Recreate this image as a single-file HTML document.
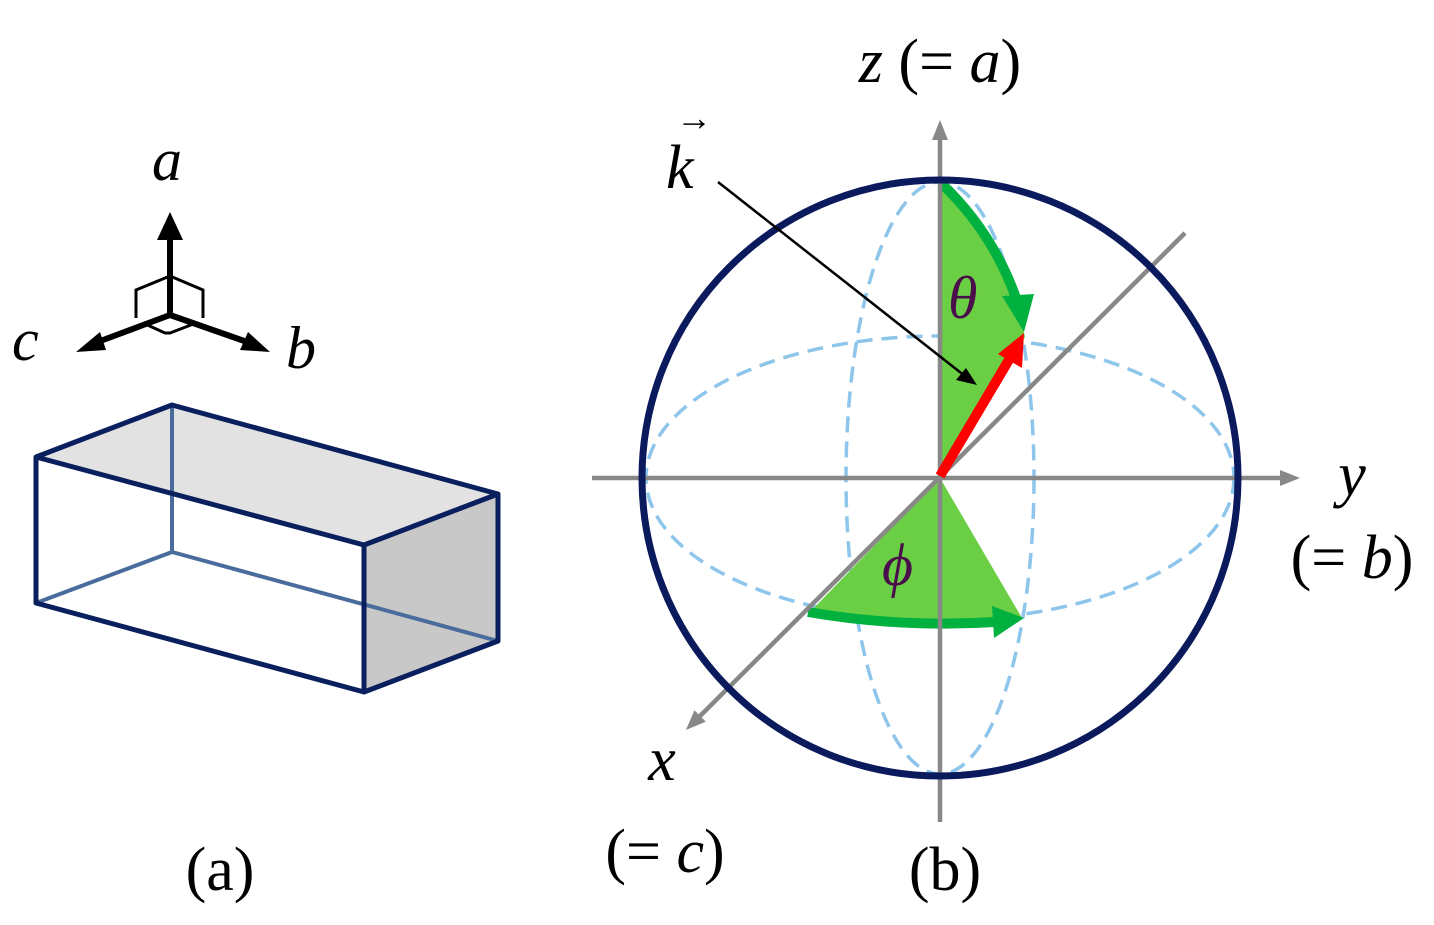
<!DOCTYPE html>
<html><head><style>body{margin:0;background:#fff}svg{display:block}</style></head><body>
<svg width="1434" height="925" viewBox="0 0 1434 925" xmlns="http://www.w3.org/2000/svg" font-family="Liberation Serif, serif">
<defs>
<marker id="ag" markerWidth="20" markerHeight="16" refX="10" refY="8" orient="auto" markerUnits="userSpaceOnUse" viewBox="0 0 20 16"><path d="M0,0L20,8L0,16z" fill="#888"/></marker>
</defs>
<!-- box -->
<polygon points="172,405 36,457 364,545 498,494" fill="#e2e2e2"/>
<polygon points="364,545 498,494 498,641 364,692" fill="#c8c8c8"/>
<g stroke="#4a6c9c" stroke-width="4" fill="none"><line x1="172" y1="405" x2="172" y2="552"/><line x1="172" y1="552" x2="36" y2="603"/><line x1="172" y1="552" x2="498" y2="641"/></g>
<g stroke="#0a1f5e" stroke-width="5" fill="none" stroke-linejoin="round"><polygon points="172,405 36,457 364,545 498,494"/><polyline points="36,457 36,603 364,692 498,641 498,494"/><line x1="364" y1="545" x2="364" y2="692"/></g>
<!-- axes icon -->
<g stroke="#000" fill="none" stroke-width="3"><polyline points="136,318 136,290 170,276 203,290 203,318"/><polyline points="143,323 165,333 170,333 196,323"/></g>
<g stroke="#000" stroke-width="6"><line x1="170" y1="318" x2="170" y2="232"/><line x1="170" y1="315" x2="95" y2="343"/><line x1="170" y1="315" x2="250" y2="343"/></g>
<polygon points="170,212 157,240 183,240" fill="#000"/>
<polygon points="76,352 100,332 106,350" fill="#000"/>
<polygon points="270,352 240,350 248,332" fill="#000"/>
<g font-style="italic" font-size="60" fill="#000"><text x="152" y="180">a</text><text x="12" y="360">c</text><text x="286" y="368">b</text></g>
<text x="220" y="890" font-size="62" text-anchor="middle">(a)</text>
<!-- sphere -->
<g stroke="#8ec5ea" stroke-width="3.5" stroke-dasharray="16,9" fill="none"><ellipse cx="940" cy="478" rx="294" ry="142"/><ellipse cx="940" cy="478" rx="94" ry="296"/></g>
<path d="M940,478 L940,182 A296,296 0 0 1 1025,337 Z" fill="#6bcf45"/>
<path d="M940,478 L810,612 Q900,628 1022,618 Z" fill="#6bcf45"/>
<path d="M942,184 A294,294 0 0 1 1016,298" stroke="#00b140" stroke-width="10" fill="none"/>
<polygon points="1002,296 1034,294 1024,332" fill="#00b140"/>
<path d="M808,612 Q900,628 995,622" stroke="#00b140" stroke-width="10" fill="none"/>
<polygon points="992,606 1024,618 994,638" fill="#00b140"/>
<g stroke="#888" stroke-width="4.5"><line x1="940" y1="822" x2="940" y2="130" marker-end="url(#ag)"/><line x1="592" y1="478" x2="1290" y2="478" marker-end="url(#ag)"/><line x1="1185" y1="233" x2="693" y2="723" marker-end="url(#ag)"/></g>
<circle cx="940" cy="478" r="298" stroke="#0a1a5c" stroke-width="7" fill="none"/>
<line x1="940" y1="476" x2="1010" y2="358" stroke="#f00" stroke-width="10"/>
<polygon points="1024,333 998,354 1022,368" fill="#f00"/>
<line x1="718" y1="182" x2="970" y2="380" stroke="#000" stroke-width="2.5"/>
<polygon points="977,385 956,380 966,368" fill="#000"/>
<g font-style="italic" font-size="60" fill="#4a0f4a"><text x="948" y="318">θ</text><text x="882" y="585">ϕ</text></g>
<g font-size="62" fill="#000">
<text x="666" y="188" font-style="italic">k</text><text x="676" y="130" font-size="36">→</text>
<text x="940" y="82" text-anchor="middle"><tspan font-style="italic">z</tspan> (= <tspan font-style="italic">a</tspan>)</text>
<text x="1352" y="495" text-anchor="middle" font-style="italic">y</text>
<text x="1352" y="578" text-anchor="middle">(= <tspan font-style="italic">b</tspan>)</text>
<text x="662" y="780" text-anchor="middle" font-style="italic">x</text>
<text x="665" y="872" text-anchor="middle">(= <tspan font-style="italic">c</tspan>)</text>
<text x="945" y="890" text-anchor="middle">(b)</text>
</g>
</svg>
</body></html>
